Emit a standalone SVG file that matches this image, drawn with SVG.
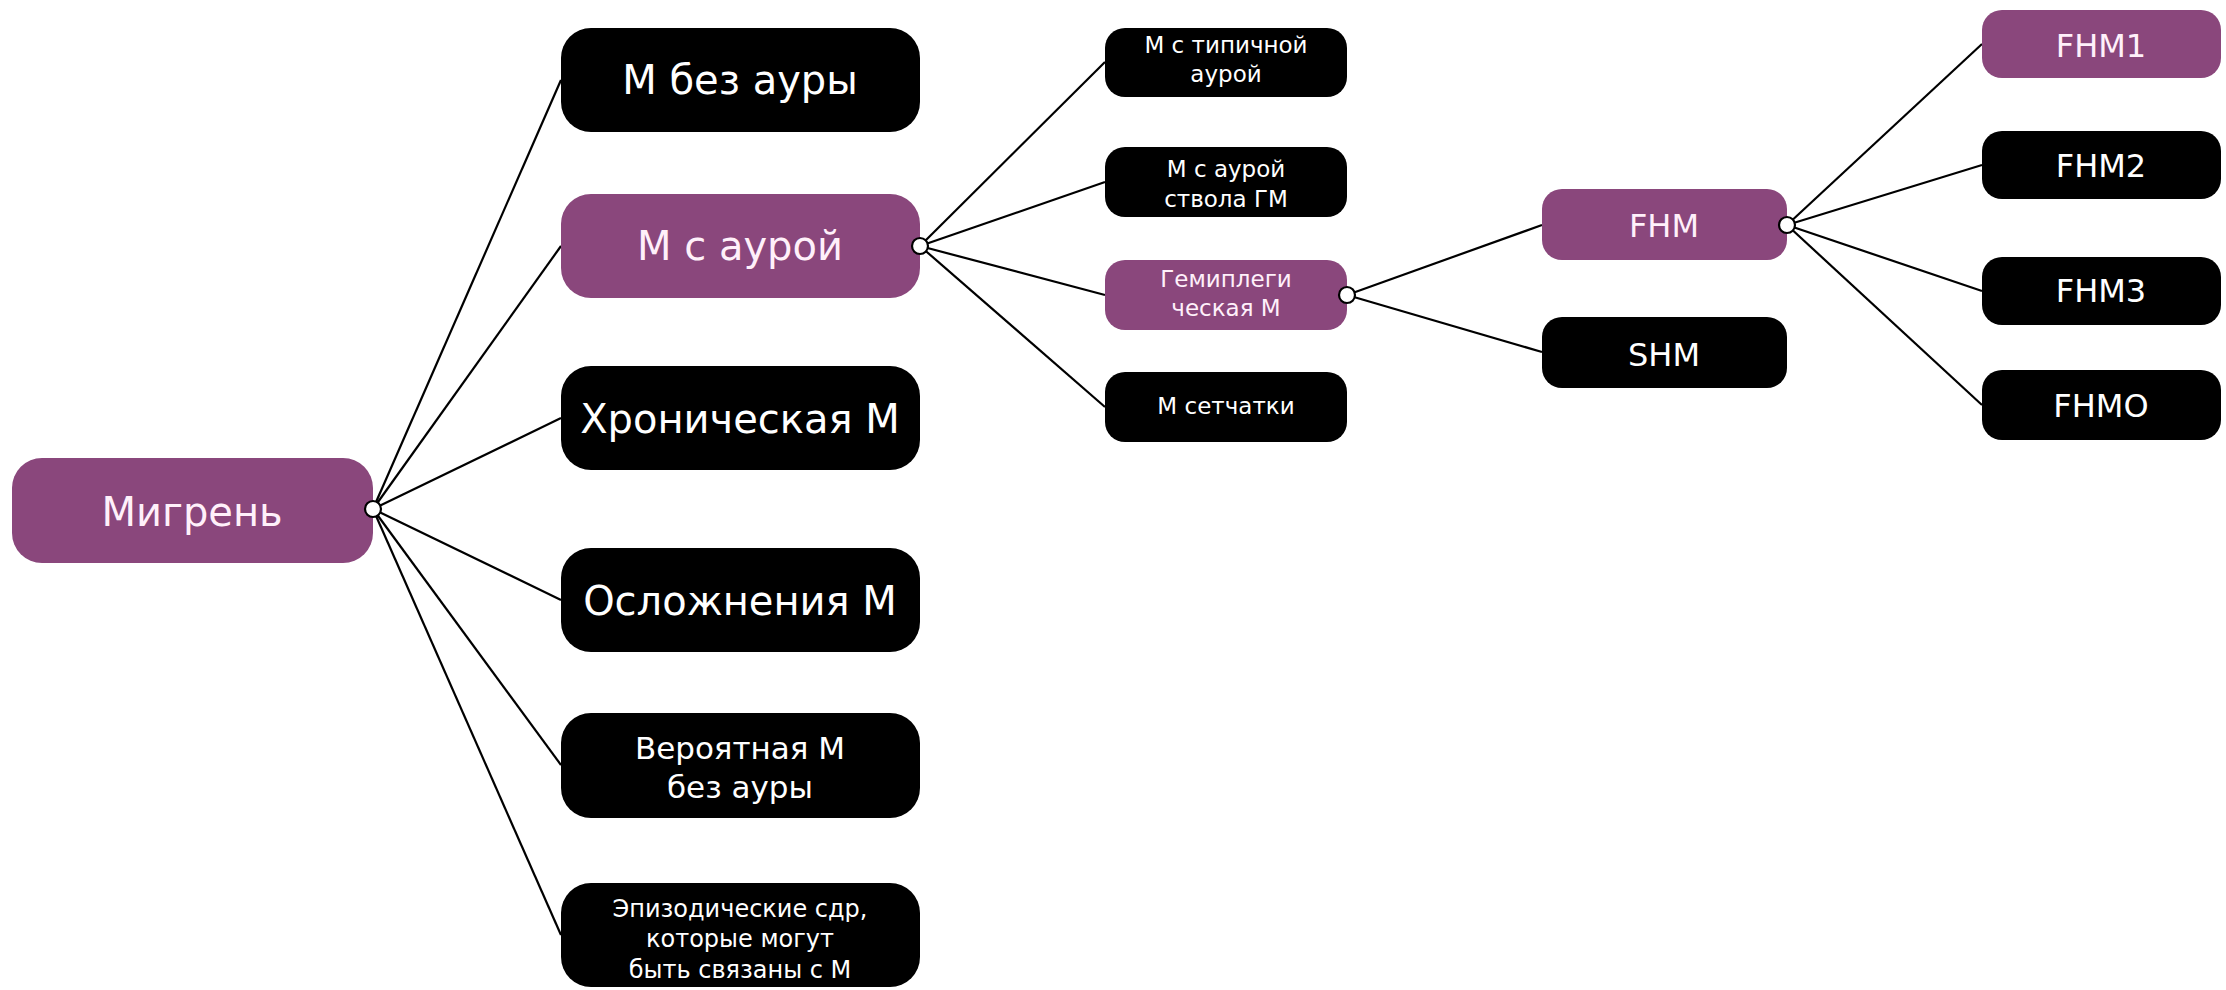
<svg xmlns="http://www.w3.org/2000/svg" width="2226" height="990" viewBox="0 0 2226 990">
<style>
.blk{fill:#000}
.pur{fill:#8A477C}
.t{font-family:"DejaVu Sans",Verdana,sans-serif;fill:#fff;text-anchor:middle}
.tp{fill:#FFF0FA}
.f40{font-size:40px}
.f32{font-size:32px}
.f31{font-size:31px}
.f24{font-size:24px}
.f23{font-size:23px}
.c line{stroke:#000;stroke-width:2.2;fill:none}
.dot{fill:#fff;stroke:#000;stroke-width:2.2}
</style>
<rect width="2226" height="990" fill="#fff"/>
<g id="connectors" class="c">
<line x1="373" y1="509" x2="561" y2="80"/>
<line x1="373" y1="509" x2="561" y2="246"/>
<line x1="373" y1="509" x2="561" y2="418"/>
<line x1="373" y1="509" x2="561" y2="600"/>
<line x1="373" y1="509" x2="561" y2="765"/>
<line x1="373" y1="509" x2="561" y2="935"/>
<line x1="920" y1="246" x2="1105" y2="62"/>
<line x1="920" y1="246" x2="1105" y2="182"/>
<line x1="920" y1="246" x2="1105" y2="295"/>
<line x1="920" y1="246" x2="1105" y2="407"/>
<line x1="1347" y1="295" x2="1542" y2="225"/>
<line x1="1347" y1="295" x2="1542" y2="352"/>
<line x1="1787" y1="225" x2="1982" y2="44"/>
<line x1="1787" y1="225" x2="1982" y2="165"/>
<line x1="1787" y1="225" x2="1982" y2="291"/>
<line x1="1787" y1="225" x2="1982" y2="405"/>
</g>
<g id="n-migren">
<rect class="pur" x="12" y="458" width="361" height="105" rx="30"/>
<text class="t tp f40" x="192" y="526">Мигрень</text>
<circle class="dot" cx="373" cy="509" r="8"/>
</g>
<g id="n-bez-aury">
<rect class="blk" x="561" y="28" width="359" height="104" rx="30"/>
<text class="t f40" x="740" y="94">М без ауры</text>
</g>
<g id="n-s-auroy">
<rect class="pur" x="561" y="194" width="359" height="104" rx="30"/>
<text class="t tp f40" x="740" y="260">М с аурой</text>
<circle class="dot" cx="920" cy="246" r="8"/>
</g>
<g id="n-chronic">
<rect class="blk" x="561" y="366" width="359" height="104" rx="30"/>
<text class="t f40" x="740" y="433">Хроническая М</text>
</g>
<g id="n-complications">
<rect class="blk" x="561" y="548" width="359" height="104" rx="30"/>
<text class="t f40" x="740" y="615">Осложнения М</text>
</g>
<g id="n-probable">
<rect class="blk" x="561" y="713" width="359" height="105" rx="30"/>
<text class="t f31" x="740" y="759">Вероятная М</text>
<text class="t f31" x="740" y="798">без ауры</text>
</g>
<g id="n-episodic">
<rect class="blk" x="561" y="883" width="359" height="104" rx="30"/>
<text class="t f24" x="740" y="917">Эпизодические сдр,</text>
<text class="t f24" x="740" y="947">которые могут</text>
<text class="t f24" x="740" y="978">быть связаны с М</text>
</g>
<g id="n-typical">
<rect class="blk" x="1105" y="28" width="242" height="69" rx="20"/>
<text class="t f23" x="1226" y="53">М с типичной</text>
<text class="t f23" x="1226" y="82">аурой</text>
</g>
<g id="n-brainstem">
<rect class="blk" x="1105" y="147" width="242" height="70" rx="20"/>
<text class="t f23" x="1226" y="177">М с аурой</text>
<text class="t f23" x="1226" y="207">ствола ГМ</text>
</g>
<g id="n-hemiplegic">
<rect class="pur" x="1105" y="260" width="242" height="70" rx="20"/>
<text class="t tp f23" x="1226" y="287">Гемиплеги</text>
<text class="t tp f23" x="1226" y="316">ческая М</text>
<circle class="dot" cx="1347" cy="295" r="8"/>
</g>
<g id="n-retinal">
<rect class="blk" x="1105" y="372" width="242" height="70" rx="20"/>
<text class="t f23" x="1226" y="414">М сетчатки</text>
</g>
<g id="n-fhm">
<rect class="pur" x="1542" y="189" width="245" height="71" rx="20"/>
<text class="t tp f32" x="1664" y="237">FHM</text>
<circle class="dot" cx="1787" cy="225" r="8"/>
</g>
<g id="n-shm">
<rect class="blk" x="1542" y="317" width="245" height="71" rx="20"/>
<text class="t f32" x="1664" y="366">SHM</text>
</g>
<g id="n-fhm1">
<rect class="pur" x="1982" y="10" width="239" height="68" rx="20"/>
<text class="t tp f32" x="2101" y="57">FHM1</text>
</g>
<g id="n-fhm2">
<rect class="blk" x="1982" y="131" width="239" height="68" rx="20"/>
<text class="t f32" x="2101" y="177">FHM2</text>
</g>
<g id="n-fhm3">
<rect class="blk" x="1982" y="257" width="239" height="68" rx="20"/>
<text class="t f32" x="2101" y="302">FHM3</text>
</g>
<g id="n-fhmo">
<rect class="blk" x="1982" y="370" width="239" height="70" rx="20"/>
<text class="t f32" x="2101" y="417">FHMO</text>
</g>
</svg>
